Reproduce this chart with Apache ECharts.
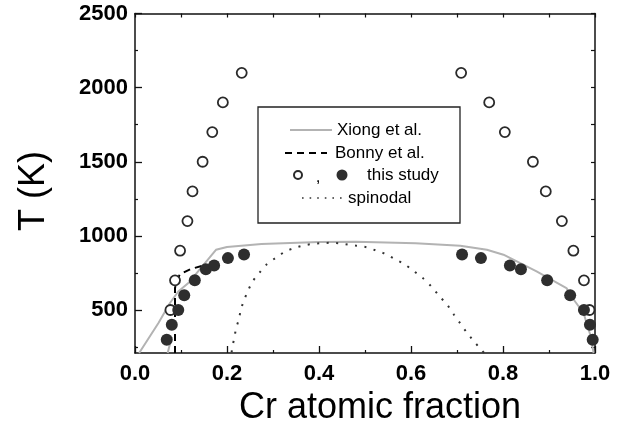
<!DOCTYPE html>
<html><head><meta charset="utf-8">
<script src="https://cdn.jsdelivr.net/npm/echarts@6/dist/echarts.min.js"></script>
<style>html,body{margin:0;padding:0;background:#fff}#c{width:632px;height:430px}</style>
</head><body><div id="c"></div>
<script>
// ---- data ----
const yTicks = [500, 1000, 1500, 2000, 2500];
const yMinorTicks = [250, 750, 1250, 1750, 2250];
const yAllTicks = [250, 500, 750, 1000, 1250, 1500, 1750, 2000, 2250, 2500];
const openLeftX  = [0.232, 0.191, 0.168, 0.147, 0.125, 0.114, 0.098, 0.087, 0.077];
const openRightX = [0.709, 0.770, 0.804, 0.865, 0.893, 0.928, 0.953, 0.976, 0.988];
const openT      = [2100, 1900, 1700, 1500, 1300, 1100, 900, 700, 500];
const filledLeftX  = [0.069, 0.080, 0.094, 0.107, 0.130, 0.154, 0.172, 0.202, 0.237];
const filledRightX = [0.995, 0.989, 0.976, 0.946, 0.896, 0.839, 0.815, 0.752, 0.711];
const filledT      = [300, 400, 500, 600, 700, 775, 800, 850, 875];
const xiong = [[0.009,210],[0.051,412],[0.076,547],[0.094,625],[0.116,682],[0.176,906],[0.20,925],[0.275,945],[0.40,958],[0.48,960],[0.61,951],[0.707,933],[0.765,906],[0.801,873],[0.873,760],[0.938,648],[0.946,603],[0.975,480],[0.99,330],[0.997,210]];
const xiong2 = [[0.071,210],[0.080,320]];
const bonny = [[0.087,210],[0.087,650],[0.097,740],[0.12,775],[0.148,800]];
const spinodal = [[0.210,215],[0.212,255],[0.216,315],[0.220,379],[0.226,439],[0.230,502],[0.237,565],[0.245,625],[0.255,689],[0.270,749],[0.286,807],[0.306,852],[0.326,893],[0.346,918],[0.366,935],[0.385,945],[0.406,951],[0.425,953],[0.446,949],[0.465,940],[0.484,933],[0.505,922],[0.525,900],[0.545,877],[0.565,843],[0.585,810],[0.604,767],[0.624,720],[0.644,659],[0.661,596],[0.679,534],[0.693,470],[0.707,410],[0.721,349],[0.737,288],[0.754,228],[0.76,205]];

const pair = (xs, ts) => xs.map((x, i) => [x, ts[i]]);

const chart = echarts.init(document.getElementById('c'));
const FONT = 'Liberation Sans, Arial, Helvetica, sans-serif';
const tickLabel = { color: '#000', fontFamily: FONT, fontWeight: 'bold', fontSize: 22 };
const yBase = { type: 'value', min: 210, max: 2500, splitLine: { show: false } };

chart.setOption({
  animation: false,
  backgroundColor: '#fff',
  grid: { left: 135, right: 37, top: 13.5, bottom: 77, containLabel: false, outerBoundsMode: 'none' },
  xAxis: [
    { type: 'value', position: 'bottom', min: 0, max: 1, interval: 0.2,
      axisLine: { show: true, onZero: false, lineStyle: { color: '#111', width: 1.5 } },
      axisTick: { show: true, inside: true, length: 7, lineStyle: { color: '#111', width: 1.3 } },
      minorTick: { show: true, splitNumber: 2, length: 3, lineStyle: { color: '#111', width: 1.2 } },
      axisLabel: Object.assign({ margin: 10, formatter: v => v.toFixed(1) }, tickLabel),
      splitLine: { show: false } },
    { type: 'value', position: 'top', min: 0, max: 1, interval: 0.1,
      axisLine: { show: true, onZero: false, lineStyle: { color: '#111', width: 1.5 } },
      axisTick: { show: true, inside: true, length: 4, lineStyle: { color: '#111', width: 1.2 } },
      axisLabel: { show: false }, splitLine: { show: false } }
  ],
  yAxis: [
    Object.assign({}, yBase, { position: 'left',
      axisLine: { show: true, onZero: false, lineStyle: { color: '#111', width: 1.5 } },
      axisTick: { show: true, inside: true, length: 7, customValues: yTicks, lineStyle: { color: '#111', width: 1.3 } },
      axisLabel: Object.assign({ margin: 7, customValues: yTicks, formatter: v => String(v) }, tickLabel) }),
    Object.assign({}, yBase, { position: 'left',
      axisLine: { show: false },
      axisTick: { show: true, inside: true, length: 3, customValues: yMinorTicks, lineStyle: { color: '#111', width: 1.2 } },
      axisLabel: { show: false } }),
    Object.assign({}, yBase, { position: 'right',
      axisLine: { show: true, onZero: false, lineStyle: { color: '#111', width: 1.5 } },
      axisTick: { show: true, inside: true, length: 4, customValues: yAllTicks, lineStyle: { color: '#111', width: 1.2 } },
      axisLabel: { show: false } })
  ],
  series: [
    { name: 'Xiong et al.', type: 'line', data: xiong, showSymbol: false, symbol: 'none',
      lineStyle: { color: '#b3b3b3', width: 2 }, z: 2 },
    { name: 'Xiong et al. (2)', type: 'line', data: xiong2, showSymbol: false, symbol: 'none',
      lineStyle: { color: '#b3b3b3', width: 2 }, z: 2 },
    { name: 'Bonny et al.', type: 'line', data: bonny, showSymbol: false, symbol: 'none',
      lineStyle: { color: '#000', width: 2, type: [7, 5] }, z: 2 },
    { name: 'spinodal', type: 'line', data: spinodal, showSymbol: false, symbol: 'none', smooth: 0.3,
      lineStyle: { color: '#333', width: 2, type: [2, 7.5] }, z: 2 },
    { name: 'open', type: 'scatter', data: pair(openLeftX, openT).concat(pair(openRightX, openT)),
      symbol: 'circle', symbolSize: 10,
      itemStyle: { color: '#fff', borderColor: '#2a2a2a', borderWidth: 1.8, opacity: 1 }, z: 3 },
    { name: 'filled', type: 'scatter', data: pair(filledLeftX, filledT).concat(pair(filledRightX, filledT)),
      symbol: 'circle', symbolSize: 12,
      itemStyle: { color: '#2e2e2e', borderWidth: 0, opacity: 1 }, z: 4 }
  ],
  graphic: [
    { type: 'text', x: 34, y: 191, rotation: Math.PI / 2,
      style: { text: 'T (K)', fill: '#000', font: '36px ' + FONT, textAlign: 'center', textVerticalAlign: 'middle' } },
    { type: 'text', x: 380, y: 408,
      style: { text: 'Cr atomic fraction', fill: '#000', font: '36px ' + FONT, textAlign: 'center', textVerticalAlign: 'middle' } },
    { type: 'rect', shape: { x: 258, y: 107, width: 202, height: 116 }, z: 10,
      style: { fill: '#fff', stroke: '#222', lineWidth: 1.3 } },
    { type: 'line', shape: { x1: 290, y1: 130, x2: 332, y2: 130 }, z: 11, style: { stroke: '#b3b3b3', lineWidth: 2 } },
    { type: 'text', x: 337, y: 130, z: 11, style: { text: 'Xiong et al.', fill: '#000', font: '17px ' + FONT, textVerticalAlign: 'middle' } },
    { type: 'line', shape: { x1: 285, y1: 153, x2: 327, y2: 153 }, z: 11, style: { stroke: '#000', lineWidth: 2, lineDash: [7, 5] } },
    { type: 'text', x: 335, y: 153, z: 11, style: { text: 'Bonny et al.', fill: '#000', font: '17px ' + FONT, textVerticalAlign: 'middle' } },
    { type: 'circle', shape: { cx: 298, cy: 175, r: 4 }, z: 11, style: { fill: '#fff', stroke: '#2a2a2a', lineWidth: 2 } },
    { type: 'text', x: 318, y: 177, z: 11, style: { text: ',', fill: '#000', font: '17px ' + FONT, textAlign: 'center', textVerticalAlign: 'middle' } },
    { type: 'circle', shape: { cx: 342, cy: 175, r: 5.5 }, z: 11, style: { fill: '#2e2e2e' } },
    { type: 'text', x: 367, y: 175, z: 11, style: { text: 'this study', fill: '#000', font: '17px ' + FONT, textVerticalAlign: 'middle' } },
    { type: 'line', shape: { x1: 302, y1: 198, x2: 345, y2: 198 }, z: 11, style: { stroke: '#333', lineWidth: 1.6, lineDash: [1.6, 6] } },
    { type: 'text', x: 348, y: 198, z: 11, style: { text: 'spinodal', fill: '#000', font: '17px ' + FONT, textVerticalAlign: 'middle' } }
  ]
});
</script></body></html>
